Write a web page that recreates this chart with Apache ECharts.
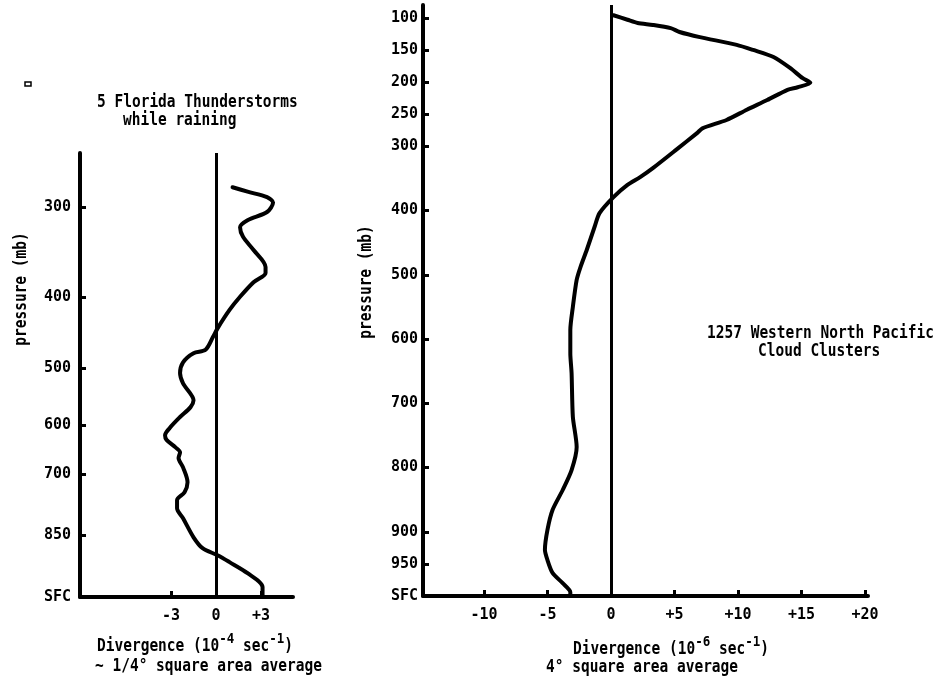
<!DOCTYPE html>
<html>
<head>
<meta charset="utf-8">
<script src="https://cdn.jsdelivr.net/npm/echarts@6/dist/echarts.min.js"></script>
<style>
  html, body { margin: 0; padding: 0; background: #fff; }
  #chart { width: 939px; height: 681px; }
</style>
</head>
<body>
<div id="chart"></div>
<script>
// ---- Panel 1: 5 Florida thunderstorms while raining (divergence, 1e-4 s^-1) ----
const floridaDivergence = [1.1, 2.1, 3.4, 3.8, 3.4, 2.1, 1.6, 1.8, 2.5, 3.3, 3.3, 2.5, 1.6, 0.9, 0.1,
  -0.2, -0.7, -1.5, -2.2, -2.4, -2.2, -1.5, -1.7, -2.4, -3.1, -3.4, -3.3, -2.7, -2.4, -2.5,
  -2.2, -1.9, -2.1, -2.6, -2.6, -2.2, -1.5, -0.9, 0.1, 0.9, 2.1, 3.1, 3.1];
const floridaPressure = [282, 286, 291, 296, 305, 313, 320, 330, 344, 363, 370, 381, 399, 416, 441,
  453, 472, 477, 491, 508, 525, 554, 566, 584, 605, 619, 628, 643, 653, 665,
  685, 718, 741, 760, 780, 805, 855, 885, 905, 925, 958, 1001, 1027];
const floridaTopMb = 253;
const floridaSurfaceMb = 1033;
const floridaPressureTicks = [300, 400, 500, 600, 700, 850, floridaSurfaceMb];
const floridaPressureLabels = ['300', '400', '500', '600', '700', '850', 'SFC'];
const floridaDivLabels = [-3, 0, 3];
const floridaDivTicks = [-3, 3];

// ---- Panel 2: 1257 Western North Pacific cloud clusters (divergence, 1e-6 s^-1) ----
const pacificDivergence = [0.2, 1.3, 2.1, 3.3, 4.7, 5.4, 7.0, 9.9, 11.2, 12.8, 14.1, 15.1, 15.7,
  14.7, 13.9, 12.3, 10.7, 9.1, 7.2, 6.8, 5.1, 3.3, 2.3, 1.3, 0.2, -0.9, -1.3, -1.9, -2.4,
  -2.7, -3.0, -3.2, -3.2, -3.1, -3.0, -2.7, -3.1, -3.8, -4.6, -5.0, -5.2, -5.0, -4.6, -3.8,
  -3.2, -3.2];
const pacificPressure = [96, 103, 108, 111, 116, 122, 130, 142, 150, 161, 178, 194, 201,
  208, 212, 228, 243, 259, 272, 279, 306, 334, 348, 360, 379, 404, 426, 461, 488,
  508, 550, 586, 622, 653, 721, 768, 804, 835, 866, 897, 928, 944, 964, 980,
  994, 999];
const pacificTopMb = 80;
const pacificSurfaceMb = 1000;
const pacificPressureTicks = [100, 150, 200, 250, 300, 400, 500, 600, 700, 800, 900, 950, pacificSurfaceMb];
const pacificPressureLabels = ['100', '150', '200', '250', '300', '400', '500', '600', '700', '800', '900', '950', 'SFC'];
const pacificDivLabels = [-10, -5, 0, 5, 10, 15, 20];
const pacificDivTicks = [-10, -5, 5, 10, 15, 20];

// ---- shared look ----
const FONT = 'DejaVu Sans Mono';
const INK = '#000';
const TALL = 1.18; // typewriter lettering is a little taller than the mono face

function signed(v) { return v > 0 ? '+' + v : String(v); }

function labelFor(ticks, labels, v, fn) {
  for (let i = 0; i < ticks.length; i++) {
    if (Math.abs(fn(ticks[i]) - v) < 1e-6) return labels[i];
  }
  return '';
}

const tickLabelStyle = { color: INK, fontFamily: FONT, fontWeight: 'bold', fontSize: 15 };

function richText(x, y, text) {
  return {
    type: 'text', x: x, y: y, scaleY: TALL,
    style: {
      text: text, align: 'left', verticalAlign: 'middle', fill: INK,
      rich: {
        n: { fontFamily: FONT, fontWeight: 'bold', fontSize: 14.5, lineHeight: 26, fill: INK },
        s: { fontFamily: FONT, fontWeight: 'bold', fontSize: 12.5, verticalAlign: 'top', fill: INK }
      }
    }
  };
}

function plainText(x, y, text) {
  return {
    type: 'text', x: x, y: y, scaleY: TALL,
    style: { text: text, fontFamily: FONT, fontWeight: 'bold', fontSize: 14.5, fill: INK,
             align: 'left', verticalAlign: 'middle' }
  };
}

function verticalText(x, y, text) {
  return {
    type: 'text', x: x, y: y, rotation: Math.PI / 2, scaleY: TALL,
    style: { text: text, fontFamily: FONT, fontWeight: 'bold', fontSize: 14.5, fill: INK,
             align: 'center', verticalAlign: 'middle' }
  };
}

const chart = echarts.init(document.getElementById('chart'), null, { renderer: 'canvas' });

chart.setOption({
  backgroundColor: '#fff',
  animation: false,
  grid: [
    { left: 80, top: 153, width: 213, height: 444 },
    { left: 423, top: 5, width: 445, height: 591 }
  ],
  xAxis: [
    {
      gridIndex: 0, type: 'value', min: -9.07, max: 5.13, position: 'bottom',
      axisLine: { onZero: false, lineStyle: { color: INK, width: 4 } },
      axisTick: { inside: true, length: 6, lineStyle: { color: INK, width: 3 }, customValues: floridaDivTicks },
      axisLabel: Object.assign({ margin: 12, customValues: floridaDivLabels, formatter: signed }, tickLabelStyle),
      splitLine: { show: false }
    },
    {
      gridIndex: 1, type: 'value', min: -14.8, max: 20.24, position: 'bottom',
      axisLine: { onZero: false, lineStyle: { color: INK, width: 4 } },
      axisTick: { inside: true, length: 6, lineStyle: { color: INK, width: 3 }, customValues: pacificDivTicks },
      axisLabel: Object.assign({ margin: 12, customValues: pacificDivLabels, formatter: signed }, tickLabelStyle),
      splitLine: { show: false }
    }
  ],
  yAxis: [
    {
      // log-pressure vertical coordinate
      gridIndex: 0, type: 'value', inverse: true,
      min: Math.log(floridaTopMb), max: Math.log(floridaSurfaceMb),
      axisLine: { onZero: false, lineStyle: { color: INK, width: 4 } },
      axisTick: { inside: true, length: 6, lineStyle: { color: INK, width: 3 },
                  customValues: floridaPressureTicks.slice(0, -1).map(Math.log) },
      axisLabel: Object.assign({
        margin: 9,
        customValues: floridaPressureTicks.map(Math.log),
        formatter: v => labelFor(floridaPressureTicks, floridaPressureLabels, v, Math.log)
      }, tickLabelStyle),
      splitLine: { show: false }
    },
    {
      gridIndex: 1, type: 'value', inverse: true,
      min: pacificTopMb, max: pacificSurfaceMb,
      axisLine: { onZero: false, lineStyle: { color: INK, width: 4 } },
      axisTick: { inside: true, length: 6, lineStyle: { color: INK, width: 3 },
                  customValues: pacificPressureTicks.slice(0, -1) },
      axisLabel: Object.assign({
        margin: 5,
        customValues: pacificPressureTicks,
        formatter: v => labelFor(pacificPressureTicks, pacificPressureLabels, v, p => p)
      }, tickLabelStyle),
      splitLine: { show: false }
    }
  ],
  series: [
    {
      name: '5 Florida Thunderstorms', type: 'line', xAxisIndex: 0, yAxisIndex: 0,
      data: floridaDivergence.map((d, i) => [d, Math.log(floridaPressure[i])]),
      showSymbol: false, smooth: 0.3,
      lineStyle: { color: INK, width: 4, cap: 'round', join: 'round' },
      markLine: {
        silent: true, symbol: 'none', label: { show: false },
        lineStyle: { color: INK, width: 3, type: 'solid' },
        data: [{ xAxis: 0 }]
      }
    },
    {
      name: '1257 Western North Pacific Cloud Clusters', type: 'line', xAxisIndex: 1, yAxisIndex: 1,
      data: pacificDivergence.map((d, i) => [d, pacificPressure[i]]),
      showSymbol: false, smooth: 0.25,
      lineStyle: { color: INK, width: 4, cap: 'round', join: 'round' },
      markLine: {
        silent: true, symbol: 'none', label: { show: false },
        lineStyle: { color: INK, width: 3, type: 'solid' },
        data: [{ xAxis: 0 }]
      }
    }
  ],
  graphic: [
    { type: 'rect', shape: { x: 25, y: 82, width: 6, height: 4 },
      style: { fill: '#fff', stroke: INK, lineWidth: 1.5 } },
    plainText(97, 103, '5 Florida Thunderstorms'),
    plainText(123, 121, 'while raining'),
    plainText(707, 334, '1257 Western North Pacific'),
    plainText(758, 352, 'Cloud Clusters'),
    verticalText(22, 289, 'pressure (mb)'),
    verticalText(367, 282, 'pressure (mb)'),
    richText(97, 647, '{n|Divergence (10}{s|-4}{n| sec}{s|-1}{n|)}'),
    plainText(95, 667, '~ 1/4° square area average'),
    richText(573, 650, '{n|Divergence (10}{s|-6}{n| sec}{s|-1}{n|)}'),
    plainText(546, 668, '4° square area average')
  ]
});
</script>
</body>
</html>
